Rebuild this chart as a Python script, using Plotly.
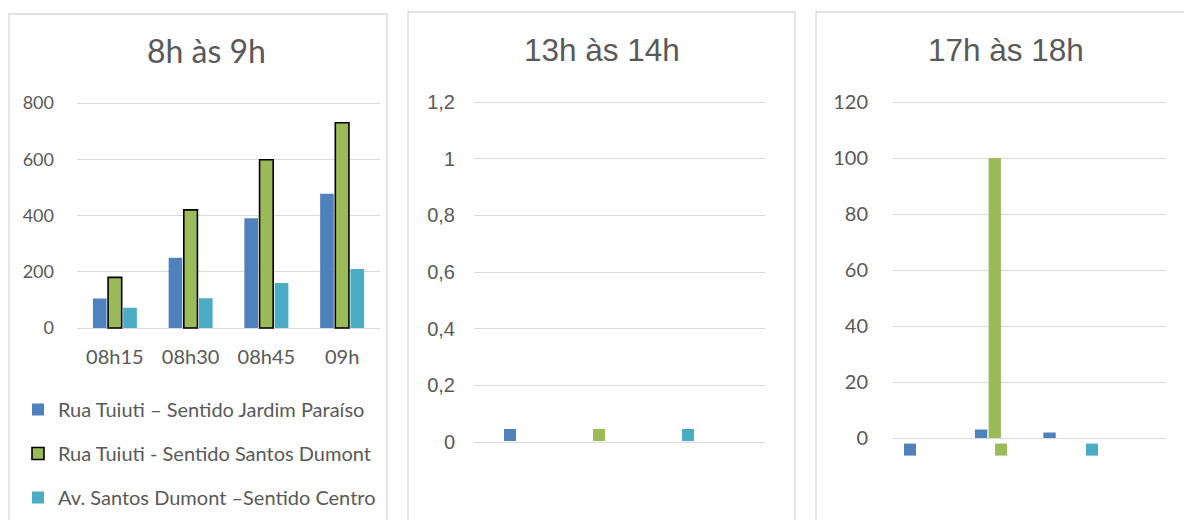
import plotly.graph_objects as go

# ---------------- data ----------------
series_names = [
    "Rua Tuiuti – Sentido Jardim Paraíso",
    "Rua Tuiuti - Sentido Santos Dumont",
    "Av. Santos Dumont –Sentido Centro",
]
series_colors = ["#4F81BD", "#9BBB59", "#4BACC6"]

categories_8h = ["08h15", "08h30", "08h45", "09h"]
jardim_8h = [105, 250, 390, 477]
dumont_8h = [180, 420, 598, 730]
centro_8h = [72, 106, 160, 210]

categories_13h = ["c1", "c2", "c3", "c4"]
jardim_13h = [0, 0, 0, 0]
dumont_13h = [0, 0, 0, 0]
centro_13h = [0, 0, 0, 0]

categories_17h = ["c1", "c2", "c3", "c4"]
jardim_17h = [0, 3, 2, 0]
dumont_17h = [0, 100, 0, 0]
centro_17h = [0, 0, 0, 0]

yticks_8h = [0, 200, 400, 600, 800]
yticklabels_8h = ["0", "200", "400", "600", "800"]
yticks_13h = [0, 0.2, 0.4, 0.6, 0.8, 1.0, 1.2]
yticklabels_13h = ["0", "0,2", "0,4", "0,6", "0,8", "1", "1,2"]
yticks_17h = [0, 20, 40, 60, 80, 100, 120]
yticklabels_17h = ["0", "20", "40", "60", "80", "100", "120"]

titles = ["8h às 9h", "13h às 14h", "17h às 18h"]

# ---------------- layout helpers ----------------
W, H = 1184, 520
TXT = "#595959"
GRID = "#D9D9D9"
CAL = "Lato, Carlito, sans-serif"
ARI = "Liberation Sans, Arial, sans-serif"


def fx(p):
    return p / W


def fy(p):
    return 1 - p / H


def ydomain(px0, pxtop, top, pad=0.01):
    span = px0 - pxtop
    lo_px = px0 + pad * span
    hi_px = pxtop - pad * span
    return [fy(lo_px), fy(hi_px)], [-pad * top, top * (1 + pad)]


fig = go.Figure()

panels = [
    (categories_8h, [jardim_8h, dumont_8h, centro_8h], "x", "y", "legend"),
    (categories_13h, [jardim_13h, dumont_13h, centro_13h], "x2", "y2", "legend2"),
    (categories_17h, [jardim_17h, dumont_17h, centro_17h], "x3", "y3", "legend3"),
]

for pi, (cats, vals, xa, ya, lg) in enumerate(panels):
    for si, (name, col, v) in enumerate(zip(series_names, series_colors, vals)):
        line = dict(width=0)
        if pi == 0 and si == 1:
            line = dict(width=1.6, color="#000000")
        fig.add_trace(go.Bar(
            x=cats, y=v,
            name=name if pi == 0 else " ",
            marker=dict(color=col, line=line),
            xaxis=xa, yaxis=ya, legend=lg,
            legendgroup=f"{pi}-{si}",
            showlegend=True,
            hoverinfo="skip",
        ))

d1, r1 = ydomain(328, 103, 800)
d2, r2 = ydomain(442, 102, 1.2)
d3, r3 = ydomain(438, 102, 120)

yax_common = dict(showgrid=True, gridcolor=GRID, gridwidth=1.3, zeroline=True,
                  zerolinecolor=GRID, zerolinewidth=1.3, showline=False, ticks="",
                  tickmode="array")

fig.update_layout(
    width=W, height=H,
    margin=dict(l=0, r=0, t=0, b=0, autoexpand=False),
    paper_bgcolor="white", plot_bgcolor="white",
    barmode="group", bargap=0.4, bargroupgap=0.1,
    showlegend=True,
    xaxis=dict(domain=[fx(77), fx(380)], anchor="y", type="category",
               showgrid=False, zeroline=False, showline=False, ticks="",
               tickfont=dict(family=CAL, size=20, color=TXT), ticklabelstandoff=13),
    yaxis=dict(domain=d1, range=r1, anchor="x", tickvals=yticks_8h, ticktext=yticklabels_8h,
               tickfont=dict(family=CAL, size=18, color=TXT), ticklabelstandoff=22, **yax_common),
    xaxis2=dict(domain=[fx(474), fx(765)], anchor="y2", type="category",
                showgrid=False, zeroline=False, showline=False, ticks="", showticklabels=False),
    yaxis2=dict(domain=d2, range=r2, anchor="x2", tickvals=yticks_13h, ticktext=yticklabels_13h,
                tickfont=dict(family=ARI, size=20, color=TXT), ticklabelstandoff=18, **yax_common),
    xaxis3=dict(domain=[fx(892), fx(1166)], anchor="y3", type="category",
                showgrid=False, zeroline=False, showline=False, ticks="", showticklabels=False),
    yaxis3=dict(domain=d3, range=r3, anchor="x3", tickvals=yticks_17h, ticktext=yticklabels_17h,
                tickfont=dict(family=CAL, size=20, color=TXT), ticklabelstandoff=23, **yax_common),
    legend=dict(x=fx(18), y=fy(390), xanchor="left", yanchor="top", orientation="v",
                tracegroupgap=15, bgcolor="rgba(0,0,0,0)",
                font=dict(family=CAL, size=20, color=TXT)),
    legend2=dict(x=fx(490), y=fy(419.5), xanchor="left", yanchor="top", orientation="h",
                 entrywidth=44, bgcolor="rgba(0,0,0,0)",
                 font=dict(family=ARI, size=14, color=TXT)),
    legend3=dict(x=fx(890), y=fy(434), xanchor="left", yanchor="top", orientation="h",
                 entrywidth=46, bgcolor="rgba(0,0,0,0)",
                 font=dict(family=ARI, size=14, color=TXT)),
    hovermode=False,
)

# titles
title_pos = [(206, 51, CAL, 32), (602, 50, ARI, 31.5), (1006, 50, ARI, 31.5)]
for t, (cx, cy, fam, sz) in zip(titles, title_pos):
    fig.add_annotation(text=t, x=fx(cx), y=fy(cy), xref="paper", yref="paper",
                       xanchor="center", yanchor="middle", showarrow=False,
                       font=dict(family=fam, size=sz, color=TXT))

# panel borders
for x0, x1, y0 in [(9, 387, 14), (408, 795, 12), (816, 1195, 12)]:
    fig.add_shape(type="rect", xref="paper", yref="paper",
                  x0=fx(x0), x1=fx(x1), y0=fy(y0), y1=fy(540),
                  line=dict(color=GRID, width=1.3), fillcolor="rgba(0,0,0,0)", layer="below")

fig.write_html("out.html")
